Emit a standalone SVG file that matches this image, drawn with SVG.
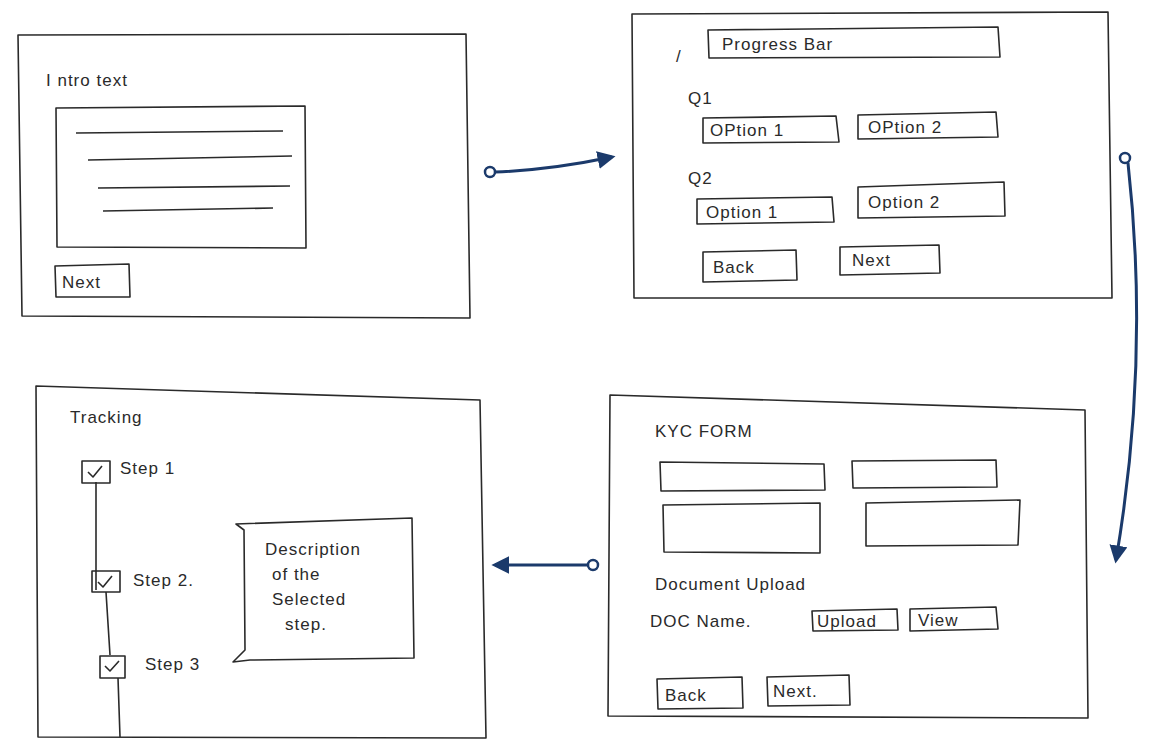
<svg xmlns="http://www.w3.org/2000/svg" width="1150" height="755" viewBox="0 0 1150 755">
<style>
.b{fill:none;stroke:#2a2a2a;stroke-width:1.6;stroke-linejoin:round}
.t{font-family:"Liberation Sans",sans-serif;fill:#2a2a2a;font-size:17px;letter-spacing:1px}
.c{fill:none;stroke:#1b3a6b;stroke-width:3}
</style>
<defs>
<marker id="ah" viewBox="0 0 10 10" refX="8" refY="5" markerWidth="6" markerHeight="6" orient="auto"><path d="M0,0L10,5L0,10z" fill="#1b3a6b"/></marker>
</defs>
<rect width="1150" height="755" fill="#fff"/>
<g id="intro">
<path class="b" d="M18,35L466,34L470,318L22,316Z"/>
<text class="t" x="46" y="86">I ntro text</text>
<path class="b" d="M56,108L305,106L306,248L57,247Z"/>
<path class="b" d="M76,133L283,131M88,160L292,156M98,188L290,186M103,211L273,208"/>
<path class="b" d="M55,266L129,264L130,297L56,297Z"/>
<text class="t" x="62" y="288">Next</text>
</g>
<g id="questions">
<path class="b" d="M632,14L1108,12L1112,298L634,298Z"/>
<text class="t" x="676" y="62">/</text>
<path class="b" d="M708,30L998,27L1000,57L709,58Z"/>
<text class="t" x="722" y="50" font-size="19">Progress Bar</text>
<text class="t" x="688" y="104">Q1</text>
<path class="b" d="M703,118L836,116L839,142L703,143Z"/>
<text class="t" x="710" y="136" font-size="15">OPtion 1</text>
<path class="b" d="M858,115L996,112L998,137L858,139Z"/>
<text class="t" x="868" y="133" font-size="15">OPtion 2</text>
<text class="t" x="688" y="184">Q2</text>
<path class="b" d="M697,199L832,197L834,222L697,224Z"/>
<text class="t" x="706" y="218">Option 1</text>
<path class="b" d="M858,187L1004,182L1005,216L858,218Z"/>
<text class="t" x="868" y="208">Option 2</text>
<path class="b" d="M703,252L796,250L797,280L703,282Z"/>
<text class="t" x="713" y="273">Back</text>
<path class="b" d="M840,247L939,245L940,273L840,275Z"/>
<text class="t" x="852" y="266">Next</text>
</g>
<g id="kyc">
<path class="b" d="M610,395L1085,410L1088,718L608,716Z"/>
<text class="t" x="655" y="437">KYC FORM</text>
<path class="b" d="M660,462L824,464L825,490L661,491Z"/>
<path class="b" d="M852,461L996,460L997,487L853,488Z"/>
<path class="b" d="M663,505L820,503L820,553L664,552Z"/>
<path class="b" d="M866,503L1020,500L1018,545L866,546Z"/>
<text class="t" x="655" y="590" font-size="19">Document Upload</text>
<text class="t" x="650" y="627" font-size="15">DOC Name.</text>
<path class="b" d="M812,611L897,609L898,630L813,631Z"/>
<text class="t" x="817" y="627" font-size="15">Upload</text>
<path class="b" d="M910,609L996,607L998,629L910,631Z"/>
<text class="t" x="918" y="626">View</text>
<path class="b" d="M657,679L742,677L743,708L658,709Z"/>
<text class="t" x="665" y="701" font-size="19">Back</text>
<path class="b" d="M767,677L849,675L850,705L768,706Z"/>
<text class="t" x="773" y="697">Next.</text>
</g>
<g id="tracking">
<path class="b" d="M36,386L480,400L486,738L38,737Z"/>
<text class="t" x="70" y="423" font-size="19">Tracking</text>
<path class="b" d="M96,482L96,590M106,592L110,655M118,678L120,737"/>
<path class="b" d="M82,461L110,461L110,483L82,483Z"/>
<path class="b" d="M88,472L93,477L102,466"/>
<text class="t" x="120" y="474" font-size="15">Step 1</text>
<path class="b" d="M92,571L120,571L120,592L92,592Z"/>
<path class="b" d="M98,582L103,587L112,576"/>
<text class="t" x="133" y="586" font-size="15">Step 2.</text>
<path class="b" d="M100,656L125,656L125,678L100,678Z"/>
<path class="b" d="M105,666L110,671L119,661"/>
<text class="t" x="145" y="670" font-size="15">Step 3</text>
<path class="b" d="M236,524L412,518L414,658L250,660L233,662L245,650L244,530Z"/>
<text class="t" x="265" y="555" font-size="16">Description</text>
<text class="t" x="272" y="580" font-size="16">of the</text>
<text class="t" x="272" y="605" font-size="16">Selected</text>
<text class="t" x="285" y="630" font-size="16">step.</text>
</g>
<g id="connectors">
<circle cx="490" cy="172" r="5" fill="#fff" stroke="#1b3a6b" stroke-width="2.5"/>
<path class="c" d="M495,172Q550,170 612,157" marker-end="url(#ah)"/>
<circle cx="1125" cy="158" r="5" fill="#fff" stroke="#1b3a6b" stroke-width="2.5"/>
<path class="c" d="M1128,163Q1150,360 1116,560" marker-end="url(#ah)"/>
<circle cx="593" cy="565" r="5" fill="#fff" stroke="#1b3a6b" stroke-width="2.5"/>
<path class="c" d="M588,565L495,565" marker-end="url(#ah)"/>
</g>
</svg>
